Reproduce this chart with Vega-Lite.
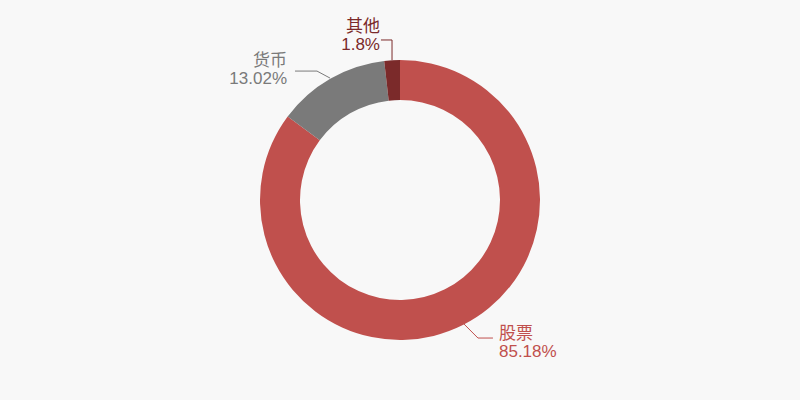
{
  "$schema": "https://vega.github.io/schema/vega-lite/v6.json",
  "width": 800,
  "height": 400,
  "autosize": {"type": "fit", "contains": "padding"},
  "padding": 0,
  "background": "#f8f8f8",
  "config": {"view": {"stroke": null}},
  "datasets": {
    "slices": [
      {"category": "股票", "value": 85.18, "ord": 1},
      {"category": "货币", "value": 13.02, "ord": 2},
      {"category": "其他", "value": 1.8, "ord": 3}
    ],
    "leaders": [
      {"category": "股票", "step": 1, "x": 0.45, "y": -0.879},
      {"category": "股票", "step": 2, "x": 0.557, "y": -0.986},
      {"category": "股票", "step": 3, "x": 0.664, "y": -0.986},
      {"category": "货币", "step": 1, "x": -0.5, "y": 0.871},
      {"category": "货币", "step": 2, "x": -0.593, "y": 0.921},
      {"category": "货币", "step": 3, "x": -0.75, "y": 0.921},
      {"category": "其他", "step": 1, "x": -0.057, "y": 1.0},
      {"category": "其他", "step": 2, "x": -0.057, "y": 1.143},
      {"category": "其他", "step": 3, "x": -0.136, "y": 1.143}
    ],
    "labels": [
      {"category": "股票", "text": "股票\n85.18%", "x": 0.707, "y": -0.957, "side": "left"},
      {"category": "货币", "text": "货币\n13.02%", "x": -0.807, "y": 0.993, "side": "right"},
      {"category": "其他", "text": "其他\n1.8%", "x": -0.143, "y": 1.236, "side": "right"}
    ]
  },
  "layer": [
    {
      "data": {"name": "slices"},
      "mark": {"type": "arc", "outerRadius": 140, "innerRadius": 100},
      "encoding": {
        "theta": {"field": "value", "type": "quantitative", "stack": true},
        "order": {"field": "ord", "type": "quantitative"},
        "color": {
          "field": "category",
          "type": "nominal",
          "scale": {"domain": ["股票", "货币", "其他"], "range": ["#c0504d", "#7a7a7a", "#7b2a2a"]},
          "legend": null
        }
      }
    },
    {
      "data": {"name": "leaders"},
      "mark": {"type": "line", "strokeWidth": 1},
      "encoding": {
        "x": {"field": "x", "type": "quantitative", "scale": {"domain": [-2.857, 2.857]}, "axis": null},
        "y": {"field": "y", "type": "quantitative", "scale": {"domain": [-1.4286, 1.4286]}, "axis": null},
        "detail": {"field": "category"},
        "order": {"field": "step", "type": "quantitative"},
        "color": {"field": "category", "type": "nominal", "legend": null}
      }
    },
    {
      "data": {"name": "labels"},
      "transform": [{"filter": "datum.side === 'left'"}],
      "mark": {"type": "text", "align": "left", "baseline": "middle", "lineBreak": "\n", "lineHeight": 18, "fontSize": 17, "font": "Liberation Sans, Noto Sans CJK SC"},
      "encoding": {
        "x": {"field": "x", "type": "quantitative", "scale": {"domain": [-2.857, 2.857]}, "axis": null},
        "y": {"field": "y", "type": "quantitative", "scale": {"domain": [-1.4286, 1.4286]}, "axis": null},
        "text": {"field": "text"},
        "color": {"field": "category", "type": "nominal", "legend": null}
      }
    },
    {
      "data": {"name": "labels"},
      "transform": [{"filter": "datum.side === 'right'"}],
      "mark": {"type": "text", "align": "right", "baseline": "middle", "lineBreak": "\n", "lineHeight": 18, "fontSize": 17, "font": "Liberation Sans, Noto Sans CJK SC"},
      "encoding": {
        "x": {"field": "x", "type": "quantitative", "scale": {"domain": [-2.857, 2.857]}, "axis": null},
        "y": {"field": "y", "type": "quantitative", "scale": {"domain": [-1.4286, 1.4286]}, "axis": null},
        "text": {"field": "text"},
        "color": {"field": "category", "type": "nominal", "legend": null}
      }
    }
  ]
}
